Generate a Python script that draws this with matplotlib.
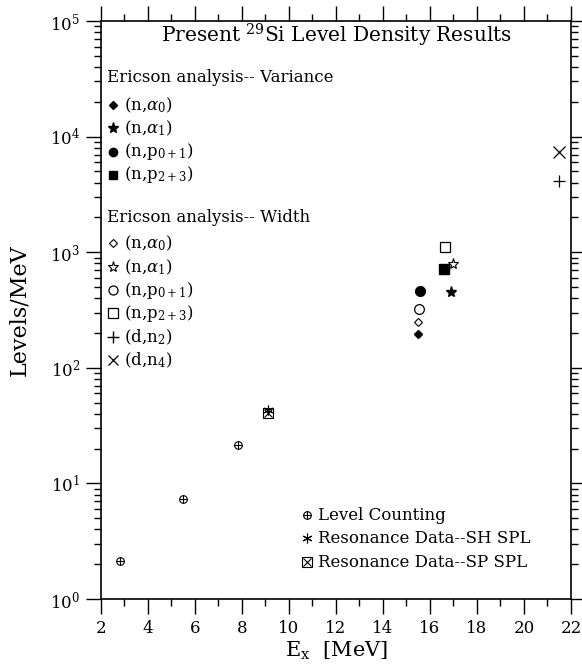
import matplotlib
matplotlib.use("Agg")
import matplotlib.pyplot as plt
from matplotlib.ticker import LogLocator, FixedLocator, NullFormatter

plt.rcParams['font.family'] = ['DejaVu Serif']
plt.rcParams['mathtext.fontset'] = 'dejavuserif'

# ---- data ----
level_x = [2.81, 5.50, 7.84]
level_y = [2.13, 7.3, 21.5]
res_sh_x = [9.12]
res_sh_y = [43]
res_sp_x = [9.12]
res_sp_y = [40.4]

var_na0_x, var_na0_y = [15.50], [196]
var_na1_x, var_na1_y = [16.89], [455]
var_np01_x, var_np01_y = [15.57], [462]
var_np23_x, var_np23_y = [16.61], [716]

wid_na0_x, wid_na0_y = [15.50], [250]
wid_na1_x, wid_na1_y = [16.99], [786]
wid_np01_x, wid_np01_y = [15.53], [323]
wid_np23_x, wid_np23_y = [16.64], [1100]
wid_dn2_x, wid_dn2_y = [21.5], [4160]
wid_dn4_x, wid_dn4_y = [21.5], [7400]

x_ticks = [2, 4, 6, 8, 10, 12, 14, 16, 18, 20, 22]

fig = plt.figure(figsize=(5.82, 6.69), dpi=100)
ax = fig.add_axes([0.1735, 0.1046, 0.8076, 0.864])
ax.set_yscale('log')
ax.set_xlim(2, 22)
ax.set_ylim(1, 1e5)

k = 'black'
# variance (filled)
ax.plot(var_na0_x, var_na0_y, 'D', color=k, ms=4.5, ls='none')
ax.plot(var_na1_x, var_na1_y, '*', color=k, ms=8, ls='none')
ax.plot(var_np01_x, var_np01_y, 'o', color=k, ms=7, ls='none')
ax.plot(var_np23_x, var_np23_y, 's', color=k, ms=6.5, ls='none')
# width (open)
ax.plot(wid_na0_x, wid_na0_y, 'D', mfc='white', mec=k, mew=0.8, ms=4.5, ls='none')
ax.plot(wid_na1_x, wid_na1_y, '*', mfc='white', mec=k, mew=0.8, ms=8, ls='none')
ax.plot(wid_np01_x, wid_np01_y, 'o', mfc='white', mec=k, mew=0.9, ms=7, ls='none')
ax.plot(wid_np23_x, wid_np23_y, 's', mfc='white', mec=k, mew=0.9, ms=7, ls='none')
ax.plot(wid_dn2_x, wid_dn2_y, '+', color=k, mew=0.9, ms=8, ls='none')
ax.plot(wid_dn4_x, wid_dn4_y, 'x', color=k, mew=0.9, ms=8, ls='none')
# level counting and resonance
ax.plot(level_x, level_y, 'o', mfc='white', mec=k, mew=0.8, ms=5.5, ls='none')
ax.plot(level_x, level_y, '+', color=k, mew=0.8, ms=6, ls='none')
ax.plot(res_sp_x, res_sp_y, 's', mfc='white', mec=k, mew=0.8, ms=6.5, ls='none')
ax.plot(res_sp_x, res_sp_y, 'x', color=k, mew=0.8, ms=6, ls='none')
ax.plot(res_sh_x, res_sh_y, marker=(6, 2, 0), color=k, mew=0.8, ms=7, ls='none')

# ---- legend-like annotations ----
T = ax.transAxes
fs_leg = 12
ax.text(0.5, 0.9758, r'Present $^{29}$Si Level Density Results', transform=T,
        ha='center', va='center', fontsize=14.5)
ax.text(0.0128, 0.9014, 'Ericson analysis-- Variance', transform=T,
        ha='left', va='center', fontsize=fs_leg)
ax.text(0.0128, 0.6609, 'Ericson analysis-- Width', transform=T,
        ha='left', va='center', fontsize=fs_leg)

mx, tx = 0.0255, 0.049
var_entries = [
    (0.8547, dict(marker='D', color=k, ms=4.5), r'(n,$\alpha_0$)'),
    (0.8149, dict(marker='*', color=k, ms=8), r'(n,$\alpha_1$)'),
    (0.7734, dict(marker='o', color=k, ms=6), r'(n,p$_{0+1}$)'),
    (0.7336, dict(marker='s', color=k, ms=5.5), r'(n,p$_{2+3}$)'),
]
wid_entries = [
    (0.6159, dict(marker='D', mfc='white', mec=k, mew=0.8, ms=4.5), r'(n,$\alpha_0$)'),
    (0.5744, dict(marker='*', mfc='white', mec=k, mew=0.8, ms=8), r'(n,$\alpha_1$)'),
    (0.5346, dict(marker='o', mfc='white', mec=k, mew=0.9, ms=6.5), r'(n,p$_{0+1}$)'),
    (0.4948, dict(marker='s', mfc='white', mec=k, mew=0.9, ms=6.5), r'(n,p$_{2+3}$)'),
    (0.4533, dict(marker='+', color=k, mew=1.0, ms=8), r'(d,n$_2$)'),
    (0.4135, dict(marker='x', color=k, mew=0.9, ms=7), r'(d,n$_4$)'),
]
for yy, mk, lab in var_entries + wid_entries:
    ax.plot([mx], [yy], transform=T, ls='none', clip_on=False, **mk)
    ax.text(tx, yy, lab, transform=T, ha='left', va='center', fontsize=fs_leg)

bmx, btx = 0.438, 0.462
ax.plot([bmx], [0.1453], transform=T, marker='o', mfc='white', mec=k, mew=0.8, ms=5.5, ls='none')
ax.plot([bmx], [0.1453], transform=T, marker='+', color=k, mew=0.8, ms=6, ls='none')
ax.text(btx, 0.1453, 'Level Counting', transform=T, ha='left', va='center', fontsize=fs_leg)
ax.plot([bmx], [0.1055], transform=T, marker=(6, 2, 0), color=k, mew=0.8, ms=7, ls='none')
ax.text(btx, 0.1055, 'Resonance Data--SH SPL', transform=T, ha='left', va='center', fontsize=fs_leg)
ax.plot([bmx], [0.064], transform=T, marker='s', mfc='white', mec=k, mew=0.8, ms=6.5, ls='none')
ax.plot([bmx], [0.064], transform=T, marker='x', color=k, mew=0.8, ms=6, ls='none')
ax.text(btx, 0.064, 'Resonance Data--SP SPL', transform=T, ha='left', va='center', fontsize=fs_leg)

# ---- axes styling ----
ax.xaxis.set_major_locator(FixedLocator(x_ticks))
ax.xaxis.set_minor_locator(FixedLocator([3, 5, 7, 9, 11, 13, 15, 17, 19, 21]))
ax.yaxis.set_major_locator(LogLocator(base=10, numticks=10))
ax.yaxis.set_minor_locator(LogLocator(base=10, subs=range(2, 10), numticks=20))
ax.yaxis.set_minor_formatter(NullFormatter())
ax.tick_params(which='both', direction='out', top=True, right=True, width=1.0, colors=k)
ax.tick_params(which='major', length=11, labelsize=12, pad=4)
ax.tick_params(which='minor', length=5)
for s in ax.spines.values():
    s.set_linewidth(1.2)

ax.set_xlabel(r'E$_{\rm x}$  [MeV]', fontsize=15, labelpad=2)
ax.set_ylabel('Levels/MeV', fontsize=16, labelpad=14)

fig.savefig('out.png', dpi=100)
